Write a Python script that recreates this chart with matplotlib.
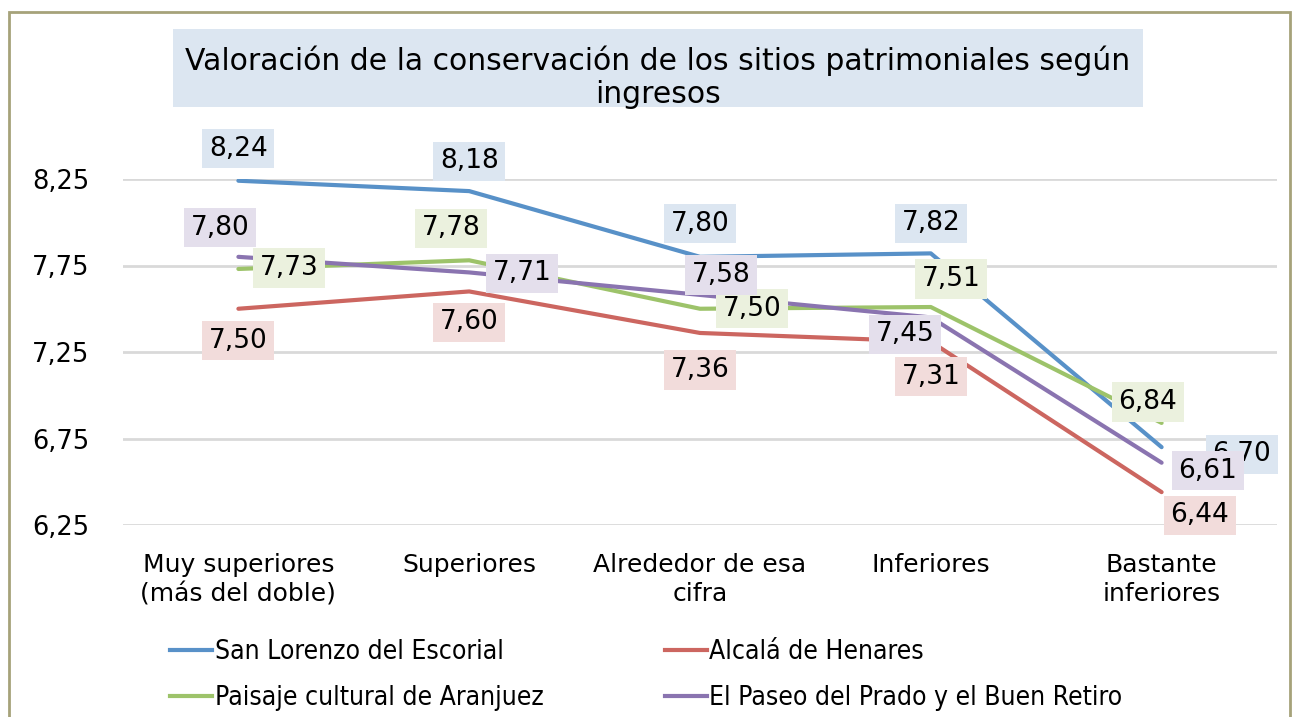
import matplotlib.pyplot as plt
from matplotlib.patches import Rectangle
from matplotlib.lines import Line2D

plt.rcParams['font.family'] = ['DejaVu Sans']

categories = ["Muy superiores\n(más del doble)", "Superiores", "Alrededor de esa\ncifra",
              "Inferiores", "Bastante\ninferiores"]
series_names = ["San Lorenzo del Escorial", "Alcalá de Henares",
                "Paisaje cultural de Aranjuez", "El Paseo del Prado y el Buen Retiro"]
escorial = [8.24, 8.18, 7.80, 7.82, 6.70]
alcala = [7.50, 7.60, 7.36, 7.31, 6.44]
aranjuez = [7.73, 7.78, 7.50, 7.51, 6.84]
prado = [7.80, 7.71, 7.58, 7.45, 6.61]
yticks = [6.25, 6.75, 7.25, 7.75, 8.25]

line_colors = ["#5891C8", "#CC6660", "#9DC36A", "#8A74B0"]
box_colors = ["#DCE6F1", "#F2DCDB", "#EBF1DE", "#E4DFEC"]

# label offsets in pixels (dx, dy) relative to each point, dy positive = up
label_offsets = [
    [(0, 32), (0, 30), (0, 33), (0, 30), (80, -7)],
    [(0, -32), (0, -31), (0, -37), (0, -35), (38, -23)],
    [(51, 1), (-18, 32), (52, 0), (20, 28), (-14, 21)],
    [(-18, 29), (53, -1), (21, 20), (-26, -17), (46, -8)],
]

W, H, DPI = 1292, 717, 100
fig = plt.figure(figsize=(W / DPI, H / DPI), dpi=DPI)

# outer frame
fig.patches.append(Rectangle((9 / W, -0.01), 1281 / W, 1 - 12 / H + 0.01,
                             transform=fig.transFigure, fill=False,
                             edgecolor="#A6A27A", linewidth=2))

ax = fig.add_axes([123 / W, 1 - 525 / H, 1154 / W, 346 / H])
x = list(range(len(categories)))
all_series = [escorial, alcala, aranjuez, prado]

for vals, color in zip(all_series, line_colors):
    ax.plot(x, vals, color=color, linewidth=3, solid_capstyle="round", zorder=3)

ax.set_xlim(-0.5, len(categories) - 0.5)
ax.set_ylim(6.25, 8.25)
ax.set_yticks(yticks)
ax.set_yticklabels([f"{v:.2f}".replace(".", ",") for v in yticks], fontsize=18.5)
ax.set_xticks(x)
ax.set_xticklabels(categories, fontsize=18, linespacing=1.3)
ax.tick_params(length=0, pad=20)
ax.tick_params(axis="y", pad=24)
ax.grid(axis="y", color="#D9D9D9", linewidth=2)
ax.set_axisbelow(True)
for s in ax.spines.values():
    s.set_visible(False)

for vals, offs, bc in zip(all_series, label_offsets, box_colors):
    for xi, v, (dx, dy) in zip(x, vals, offs):
        ax.annotate(f"{v:.2f}".replace(".", ","), (xi, v), xytext=(dx * 72 / DPI, dy * 72 / DPI),
                    textcoords="offset points", ha="center", va="center", fontsize=19,
                    annotation_clip=False, zorder=4,
                    bbox=dict(boxstyle="square,pad=0.25", facecolor=bc, edgecolor="none"))

# title with its shaded band
fig.patches.append(Rectangle((173 / W, 1 - 107 / H), 970 / W, 78 / H,
                             transform=fig.transFigure, facecolor="#DCE6F1",
                             edgecolor="none"))
fig.text(658 / W, 1 - 77 / H,
         "Valoración de la conservación de los sitios patrimoniales según\ningresos",
         ha="center", va="center", fontsize=21.5, linespacing=1.18)

handles = [Line2D([], [], color=c, linewidth=3) for c in line_colors]
order = [0, 2, 1, 3]
fig.legend([handles[i] for i in order], [series_names[i] for i in order],
           ncol=2, loc="upper left", bbox_to_anchor=(157 / W, 1 - 626 / H),
           frameon=False, borderpad=0, handlelength=1.6, handletextpad=0.08,
           columnspacing=4.6, labelspacing=0.75,
           prop=dict(family="DejaVu Sans", size=19, stretch="condensed"))

fig.savefig("out.png", dpi=DPI)
